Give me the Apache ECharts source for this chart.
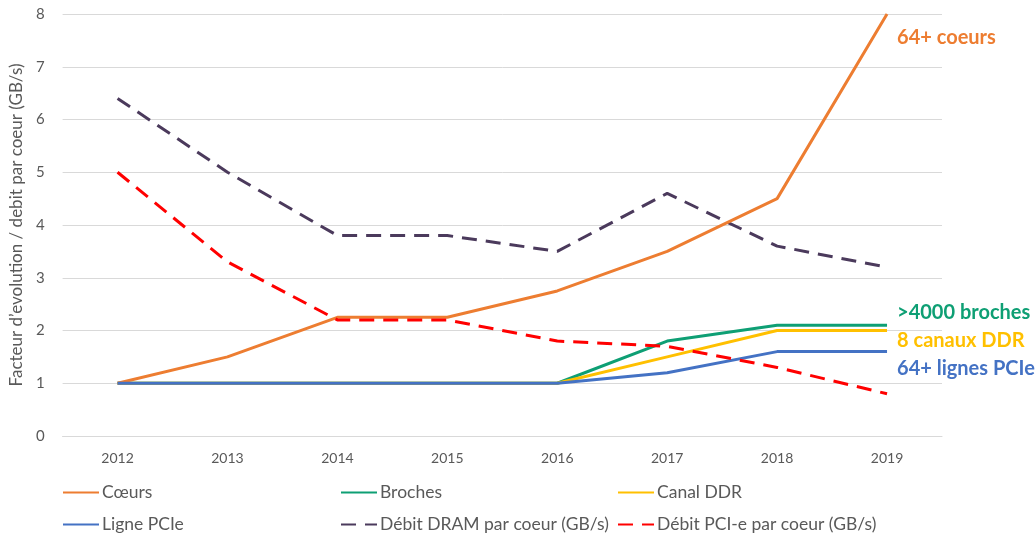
<!DOCTYPE html>
<html>
<head>
<meta charset="utf-8">
<script src="https://cdn.jsdelivr.net/npm/echarts@6/dist/echarts.min.js"></script>
<style>
  html, body { margin: 0; padding: 0; background: #fff; }
  #chart { width: 1036px; height: 538px; }
</style>
</head>
<body>
<div id="chart"></div>
<script>
// Years on the horizontal axis
const years = ['2012', '2013', '2014', '2015', '2016', '2017', '2018', '2019'];

// Evolution factors (relative to 2012)
const coeurs = [1, 1.5, 2.25, 2.25, 2.75, 3.5, 4.5, 8];
const broches = [1, 1, 1, 1, 1, 1.8, 2.1, 2.1];
const canalDDR = [1, 1, 1, 1, 1, 1.5, 2, 2];
const lignePCIe = [1, 1, 1, 1, 1, 1.2, 1.6, 1.6];

// Bandwidth per core (GB/s)
const debitDRAM = [6.4, 5.0, 3.8, 3.8, 3.5, 4.6, 3.6, 3.2];
const debitPCIe = [5.0, 3.3, 2.2, 2.2, 1.8, 1.7, 1.3, 0.8];

// Annotations shown at the end of some lines
const endNotes = {
  coeurs: '64+ coeurs',
  broches: '>4000 broches',
  ddr: '8 canaux DDR',
  pcie: '64+ lignes PCIe'
};

const FONT = 'Lato, "Open Sans", sans-serif';
const TXT = '#595959';

function lineSeries(name, data, color, opts) {
  opts = opts || {};
  const s = {
    name: name,
    type: 'line',
    data: data,
    symbol: 'none',
    smooth: false,
    z: opts.z || 2,
    lineStyle: { color: color, width: 3, type: opts.dashed ? [15, 9] : 'solid', cap: 'butt' },
    itemStyle: { color: color },
    emphasis: { disabled: true }
  };
  if (opts.note) {
    s.endLabel = {
      show: true,
      formatter: opts.note,
      color: color,
      fontFamily: FONT,
      fontWeight: 'bold',
      fontSize: 20,
      distance: 0,
      offset: opts.offset
    };
  }
  return s;
}

const chart = echarts.init(document.getElementById('chart'), null, { renderer: 'canvas' });

// One legend per column, two entries stacked in each
function legendCol(left, names) {
  return {
    orient: 'vertical',
    left: left,
    top: 482,
    padding: 0,
    itemWidth: 36,
    itemHeight: 14,
    itemGap: 11,
    itemStyle: { opacity: 0 },
    textStyle: { color: TXT, fontFamily: FONT, fontSize: 17.5, lineHeight: 21, padding: [0, 0, 0, -2] },
    data: names,
    selectedMode: false
  };
}

chart.setOption({
  animation: false,
  backgroundColor: '#ffffff',
  grid: { left: 56, right: 94, top: 14, bottom: 102, containLabel: false },
  legend: [
    legendCol(62, ['Cœurs', 'Ligne PCIe']),
    legendCol(340, ['Broches', 'Débit DRAM par coeur (GB/s)']),
    legendCol(617, ['Canal DDR', 'Débit PCI-e par coeur (GB/s)'])
  ],
  xAxis: {
    type: 'category',
    data: years,
    boundaryGap: true,
    axisLine: { show: true, lineStyle: { color: '#d9d9d9', width: 1 } },
    axisTick: { show: false },
    axisLabel: { color: TXT, fontFamily: FONT, fontSize: 14, margin: 15 }
  },
  yAxis: {
    type: 'value',
    min: 0,
    max: 8,
    interval: 1,
    name: 'Facteur d’evolution / debit par coeur (GB/s)',
    nameLocation: 'middle',
    nameRotate: 90,
    nameGap: 37,
    nameTextStyle: { color: TXT, fontFamily: FONT, fontSize: 17 },
    axisLine: { show: false },
    axisTick: { show: false },
    axisLabel: { color: TXT, fontFamily: FONT, fontSize: 15, margin: 18 },
    splitLine: { lineStyle: { color: '#d9d9d9', width: 1 } }
  },
  series: [
    lineSeries('Cœurs', coeurs, '#ED7D31', { note: endNotes.coeurs, offset: [10, 24], z: 3 }),
    lineSeries('Broches', broches, '#0E9F74', { note: endNotes.broches, offset: [10, -13] }),
    lineSeries('Canal DDR', canalDDR, '#FFC000', { note: endNotes.ddr, offset: [10, 10] }),
    lineSeries('Ligne PCIe', lignePCIe, '#4472C4', { note: endNotes.pcie, offset: [10, 17], z: 3 }),
    lineSeries('Débit DRAM par coeur (GB/s)', debitDRAM, '#4B3A5C', { dashed: true }),
    lineSeries('Débit PCI-e par coeur (GB/s)', debitPCIe, '#FF0000', { dashed: true, z: 4 })
  ]
});
</script>
</body>
</html>
